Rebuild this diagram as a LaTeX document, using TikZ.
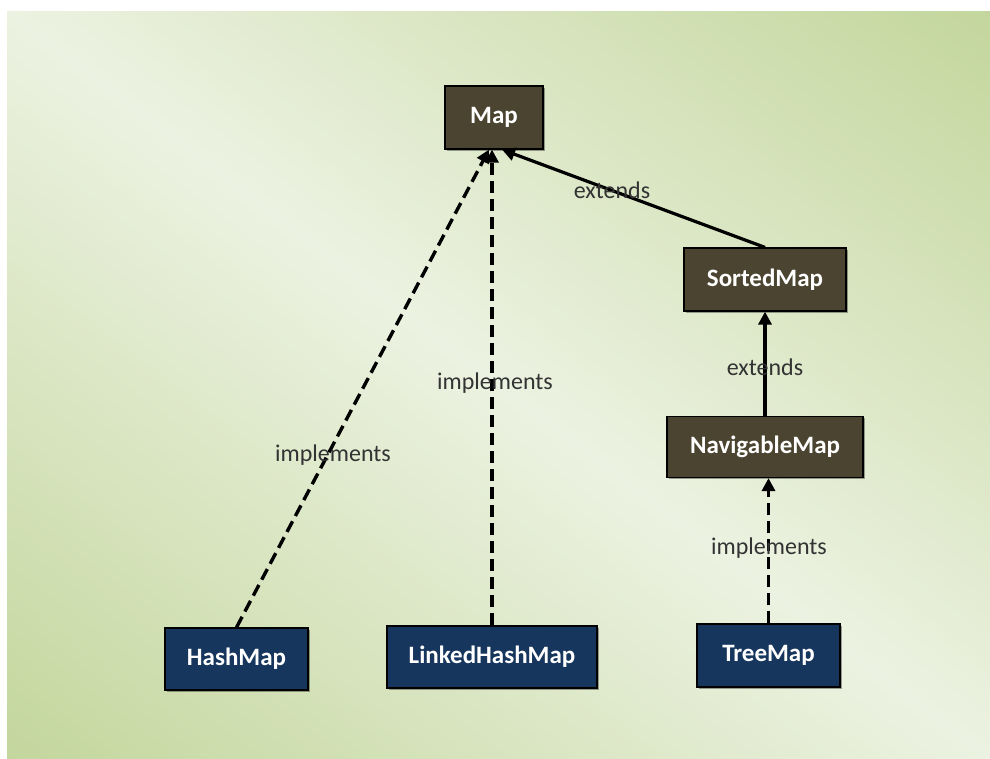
\documentclass[tikz,border=0pt]{standalone}
\usepackage{fontspec}
\setmainfont{Carlito}
\usetikzlibrary{arrows.meta,shadows,calc}
\definecolor{bgG}{HTML}{C3D69C}
\definecolor{bgL}{HTML}{ECF2E1}
\definecolor{brownbox}{HTML}{4A4430}
\definecolor{bluebox}{HTML}{17365D}
\definecolor{lbl}{HTML}{333333}
\tikzset{
  boxbase/.style={draw=black, line width=1.2pt, text=white, font=\fontsize{25}{28}\selectfont\bfseries,
    inner sep=0pt, drop shadow={shadow xshift=1.5pt, shadow yshift=-1.5pt, fill=black, opacity=0.35}},
  ifacebox/.style={boxbase, fill=brownbox},
  classbox/.style={boxbase, fill=bluebox},
  tip/.style={-{Triangle[length=13pt,width=13pt]}},
  implline/.style={tip, line width=3.4pt, dash pattern=on 12pt off 6pt},
  extline/.style={tip, line width=3.2pt},
  lbltext/.style={text=lbl, font=\fontsize{24}{28}\selectfont, inner sep=0pt}
}
\begin{document}
\begin{tikzpicture}[x=1pt,y=-1pt]
\useasboundingbox (0,0) rectangle (990,758);
\fill[white] (0,0) rectangle (990,758);
\begin{scope}
  \clip (7,11) rectangle (990,758);
  \begin{scope}[transform canvas={shift={(498.5,384.5)}, rotate=-37.23}]
    \shade[top color=bgG, bottom color=bgG, middle color=bgL] (-800,-600) rectangle (800,600);
  \end{scope}
\end{scope}

\node[ifacebox, minimum width=98pt, minimum height=63pt] (map) at (494,117.5) {Map};
\node[ifacebox, minimum width=162pt, minimum height=63pt] (sorted) at (765,279.5) {SortedMap};
\node[ifacebox, minimum width=196pt, minimum height=61pt] (nav) at (765,447) {NavigableMap};
\node[classbox, minimum width=143pt, minimum height=62pt] (hash) at (236.5,659) {HashMap};
\node[classbox, minimum width=210pt, minimum height=62pt] (lhm) at (492,657) {LinkedHashMap};
\node[classbox, minimum width=143pt, minimum height=63pt] (tree) at (768.5,655.5) {TreeMap};

\coordinate (mapL) at ($(map.south)+(-5,0)$);
\coordinate (mapR) at ($(map.south)+(8,0)$);

\draw[implline] (hash.north) -- (mapL);
\draw[implline] (lhm.north) -- (lhm.north |- map.south);
\draw[extline] (sorted.north) -- (mapR);
\draw[extline, line width=4pt] (nav.north) -- (sorted.south);
\draw[implline] (tree.north) -- (tree.north |- nav.south);

\node[lbltext] (l1) at (612,190) {extends};
\node[lbltext] (l2) at (495,383) {implements};
\node[lbltext] (l3) at (333,455) {implements};
\node[lbltext] (l4) at (765,367) {extends};
\node[lbltext] (l5) at (769,548) {implements};
\end{tikzpicture}
\end{document}
